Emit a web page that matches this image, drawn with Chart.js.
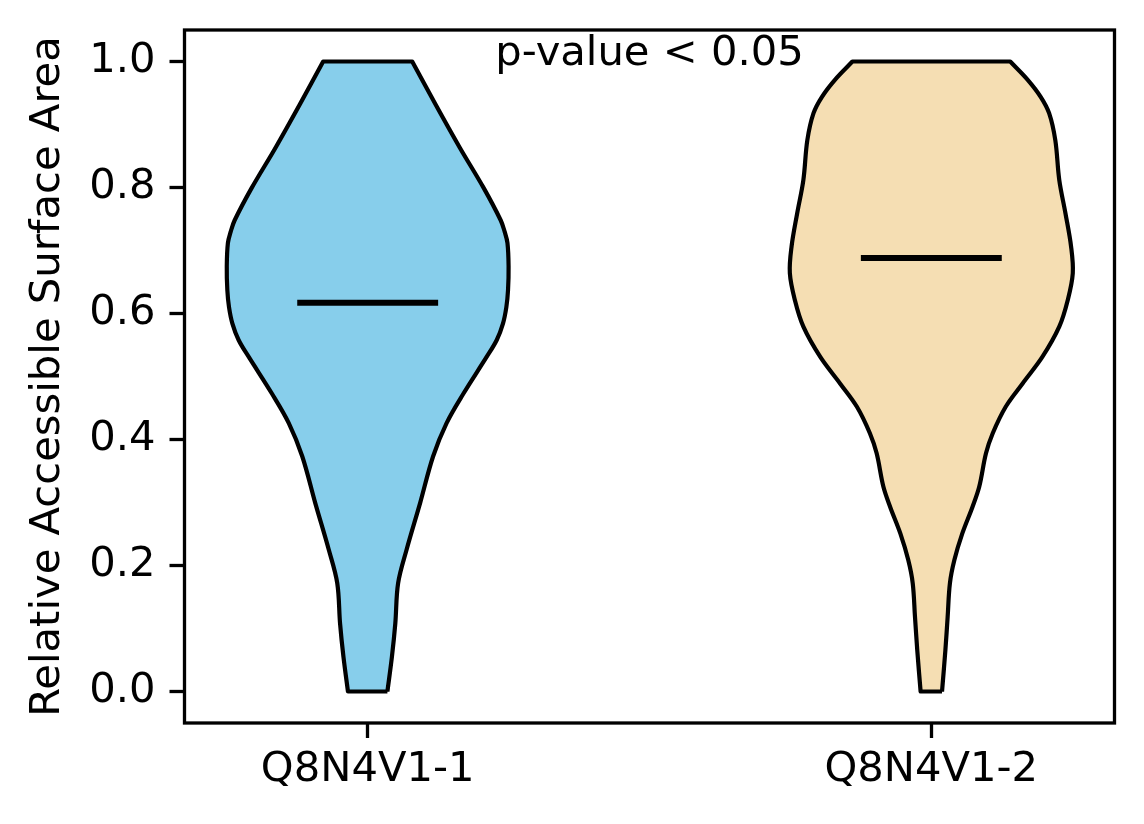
<!DOCTYPE html>
<html>
<head>
<meta charset="utf-8">
<script src="https://cdn.jsdelivr.net/npm/chart.js@4.4.1/dist/chart.umd.min.js"></script>
<style>
  html, body { margin: 0; padding: 0; background: #fff; }
  #wrap { width: 1144px; height: 824px; }
</style>
</head>
<body>
<div id="wrap"><canvas id="violinChart"></canvas></div>
<script>
const categories = ['Q8N4V1-1', 'Q8N4V1-2'];
const positions = [1, 2];
const medians = [0.617, 0.688];
const fillColors = ['#87CEEB', '#F5DEB3'];
const yTickValues = [0, 0.2, 0.4, 0.6, 0.8, 1.0];
const pValueText = 'p-value < 0.05';
const pValueX = 1.5;
const pValueY = 0.994;

// violin 1 outline: value levels and density half-widths (x units)
const levels1 = [0.000, 0.055, 0.108, 0.172, 0.225, 0.299, 0.373, 0.426, 0.473, 0.531, 0.558,
                 0.584, 0.610, 0.637, 0.675, 0.712, 0.730, 0.748, 0.799, 0.864, 0.931, 1.000];
const halfWidths1 = [0.035, 0.043, 0.049, 0.054, 0.069, 0.093, 0.116, 0.140, 0.170, 0.211, 0.229,
                     0.240, 0.246, 0.249, 0.250, 0.248, 0.243, 0.236, 0.206, 0.163, 0.121, 0.079];

// violin 2 outline
const levels2 = [0.000, 0.066, 0.119, 0.172, 0.209, 0.251, 0.293, 0.325, 0.378, 0.410, 0.452, 0.489,
                 0.531, 0.579, 0.621, 0.664, 0.706, 0.759, 0.812, 0.875, 0.918, 0.944, 0.971, 1.000];
const halfWidths2 = [0.019, 0.025, 0.029, 0.033, 0.041, 0.055, 0.073, 0.085, 0.097, 0.109, 0.132, 0.162,
                     0.197, 0.227, 0.242, 0.251, 0.248, 0.238, 0.227, 0.220, 0.209, 0.194, 0.171, 0.140];

const medianHalfLength = 0.125;
const fontSize = 41.7;

Chart.defaults.font.family = 'DejaVu Sans';
Chart.defaults.font.size = fontSize;
Chart.defaults.color = '#000';

// closed outline: up the right side, down the left side
// corner points are doubled so the curve keeps the flat ends sharp
function violinOutline(center, levels, halfWidths) {
    const right = levels.map((y, i) => ({x: center + halfWidths[i], y: y}));
    const left = levels.map((y, i) => ({x: center - halfWidths[i], y: y})).reverse();
    const n = levels.length;
    return [right[0], ...right, right[n - 1],
            left[0], ...left, left[n - 1],
            right[0]];
}

const violinData = [
    violinOutline(positions[0], levels1, halfWidths1),
    violinOutline(positions[1], levels2, halfWidths2)
];

const datasets = [];
violinData.forEach((outline, i) => {
    datasets.push({
        data: outline,
        showLine: true,
        fill: 'shape',
        backgroundColor: fillColors[i],
        borderColor: '#000',
        borderWidth: 4.2,
        borderJoinStyle: 'round',
        pointRadius: 0,
        tension: 0.35,
        order: 1
    });
});
medians.forEach((m, i) => {
    datasets.push({
        data: [{x: positions[i] - medianHalfLength, y: m}, {x: positions[i] + medianHalfLength, y: m}],
        showLine: true,
        fill: false,
        borderColor: '#000',
        borderWidth: 6,
        borderCapStyle: 'butt',
        pointRadius: 0,
        order: 0
    });
});

const boxAndText = {
    id: 'boxAndText',
    afterDraw(chart) {
        const {ctx, chartArea, scales} = chart;
        ctx.save();
        ctx.strokeStyle = '#000';
        ctx.lineWidth = 3.3;
        ctx.strokeRect(chartArea.left, chartArea.top,
                       chartArea.right - chartArea.left, chartArea.bottom - chartArea.top);
        ctx.fillStyle = '#000';
        ctx.font = fontSize + 'px "DejaVu Sans"';
        ctx.textAlign = 'center';
        ctx.textBaseline = 'alphabetic';
        ctx.fillText(pValueText, scales.x.getPixelForValue(pValueX), scales.y.getPixelForValue(pValueY));
        ctx.restore();
    }
};

const tickGrid = {
    display: true,
    drawOnChartArea: false,
    drawTicks: true,
    tickLength: 15,
    tickWidth: 3.3,
    tickColor: '#000'
};

new Chart(document.getElementById('violinChart'), {
    type: 'scatter',
    data: {datasets: datasets},
    options: {
        responsive: true,
        maintainAspectRatio: false,
        animation: false,
        layout: {padding: {top: 30, right: 29.5, left: 0, bottom: 0}},
        plugins: {
            legend: {display: false},
            tooltip: {enabled: false}
        },
        scales: {
            x: {
                type: 'linear',
                min: 0.675,
                max: 2.325,
                grid: tickGrid,
                border: {display: false},
                afterBuildTicks: scale => { scale.ticks = positions.map(v => ({value: v})); },
                afterFit: scale => { scale.height = 101; scale.paddingLeft = 0; scale.paddingRight = 0; },
                ticks: {
                    padding: 7,
                    maxRotation: 0,
                    autoSkip: false,
                    callback: value => categories[positions.indexOf(value)]
                }
            },
            y: {
                type: 'linear',
                min: -0.05,
                max: 1.05,
                grid: tickGrid,
                border: {display: false},
                afterBuildTicks: scale => { scale.ticks = yTickValues.map(v => ({value: v})); },
                afterFit: scale => { scale.width = 184.5; scale.paddingTop = 0; scale.paddingBottom = 0; },
                ticks: {
                    padding: 14,
                    callback: value => value.toFixed(1)
                },
                title: {
                    display: true,
                    text: 'Relative Accessible Surface Area',
                    padding: {top: 23, bottom: 0}
                }
            }
        }
    },
    plugins: [boxAndText]
});
</script>
</body>
</html>
